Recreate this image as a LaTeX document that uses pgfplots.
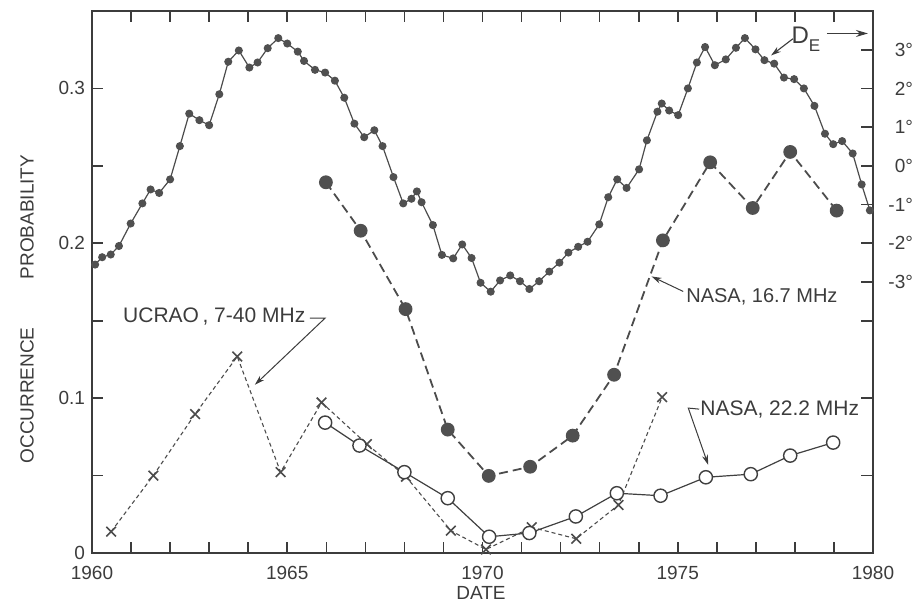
\documentclass[border=0pt]{standalone}
\usepackage{fontspec}
\setmainfont{Liberation Sans}
\usepackage{pgfplots}
\pgfplotsset{compat=1.18}
\usetikzlibrary{arrows.meta}
\definecolor{ink}{HTML}{3C3C3C}
\definecolor{dot}{HTML}{505050}

\begin{document}
\begin{tikzpicture}[font=\fontsize{9.5}{11}\selectfont]
\path[use as bounding box] (-46pt,-24.5pt) rectangle (410pt,276.5pt);

% left axis: occurrence probability
\begin{axis}[
    name=main, at={(0,0)}, anchor=south west,
    scale only axis, width=390.5pt, height=271pt,
    xmin=1960, xmax=1980, ymin=0, ymax=0.35,
    clip=false,
    axis line style={-, ink, line width=0.9pt},
    tick style={ink, line width=0.8pt},
    tick align=inside,
    major tick length=5.5pt, minor tick length=5.5pt,
    xtick={1960,1965,1970,1975,1980},
    xticklabels={1960,1965,1970,1975,1980},
    minor xtick={1961,1962,1963,1964,1966,1967,1968,1969,1971,1972,1973,1974,1976,1977,1978,1979},
    ytick={0,0.05,0.1,0.15,0.2,0.25,0.3},
    yticklabels={0\hspace{4.5pt},,0.1,,0.2,,0.3},
    ytick pos=left,
    /pgf/number format/assume math mode=true,
    ticklabel style={text=ink},
    xticklabel style={yshift=-3pt},
]

% UCRAO, 7-40 MHz
\addplot[black!70, line width=0.55pt, dash pattern=on 2pt off 1.5pt,
    mark=x, mark size=3.4pt, mark options={solid, line width=0.8pt}]
coordinates {
(1960.49,0.0138) (1961.57,0.0500) (1962.64,0.0897) (1963.72,0.1269)
(1964.83,0.0522) (1965.88,0.0972) (1967.04,0.0703) (1968.04,0.0493)
(1969.19,0.0144) (1970.09,0.0023) (1971.26,0.0166) (1972.40,0.0092)
(1973.48,0.0310) (1974.60,0.1006)
};

% NASA, 16.7 MHz
\addplot[black!70, line width=0.9pt, dash pattern=on 4.5pt off 2.5pt,
    mark=*, mark size=3pt, mark options={solid, fill=dot, draw=dot}]
coordinates {
(1965.99,0.2394) (1966.88,0.2081) (1968.03,0.1575) (1969.11,0.0797)
(1970.16,0.0498) (1971.22,0.0557) (1972.31,0.0758) (1973.37,0.1151)
(1974.62,0.2019) (1975.83,0.2523) (1976.92,0.2228) (1977.88,0.2590)
(1979.07,0.2211)
};

% NASA, 22.2 MHz
\addplot[black!75, line width=0.6pt,
    mark=*, mark size=3.3pt, mark options={fill=white, draw=black!75, line width=0.7pt}]
coordinates {
(1965.97,0.0842) (1966.85,0.0694) (1968.00,0.0522) (1969.11,0.0354)
(1970.17,0.0105) (1971.20,0.0129) (1972.39,0.0236) (1973.44,0.0386)
(1974.56,0.0370) (1975.72,0.0489) (1976.87,0.0509) (1977.88,0.0629)
(1978.98,0.0713)
};

% labels
\node[anchor=west, inner sep=0pt, text=ink, font=\fontsize{10}{12}\selectfont] at (axis cs:1975.21,0.1655) {NASA, 16.7 MHz};
\draw[-{Stealth[length=5pt,width=3pt]}, ink, line width=0.5pt] (axis cs:1975.14,0.1689) -- (axis cs:1974.33,0.1786);

\node[anchor=west, inner sep=0pt, text=ink, font=\fontsize{10.5}{12}\selectfont] at (axis cs:1975.57,0.0924) {NASA, 22.2 MHz};
\draw[-{Stealth[length=5pt,width=3pt]}, ink, line width=0.5pt] (axis cs:1975.55,0.0929) -- (axis cs:1975.27,0.0936) -- (axis cs:1975.78,0.0569);

\node[anchor=west, inner sep=0pt, text=ink, font=\fontsize{10.5}{12}\selectfont] at (axis cs:1960.79,0.1527) {UCRAO\,, 7-40 MHz};
\draw[-{Stealth[length=5pt,width=3pt]}, ink, line width=0.5pt] (axis cs:1965.58,0.1517) -- (axis cs:1965.97,0.1517) -- (axis cs:1964.17,0.1086);

\node[text=ink, font=\fontsize{12}{13}\selectfont] at (axis cs:1978.28,0.3316) {D\raisebox{-0.6ex}{\fontsize{8.5}{9}\selectfont E}};
\draw[-{Stealth[length=5pt,width=3pt]}, ink, line width=0.55pt] (axis cs:1977.95,0.3321) -- (axis cs:1977.39,0.3213);
\draw[-{Stealth[length=6pt,width=3.5pt]}, ink, line width=0.55pt] (axis cs:1978.82,0.3355) -- (axis cs:1979.87,0.3355);

\node[rotate=90, text=ink] at (rel axis cs:-0.0832,0.45) {OCCURRENCE\hspace{24pt}PROBABILITY};
\node[text=ink] at (rel axis cs:0.498,-0.0738) {DATE};
\end{axis}

% right axis: D_E in degrees
\begin{axis}[
    at={(0,0)}, anchor=south west,
    scale only axis, width=390.5pt, height=271pt,
    xmin=1960, xmax=1980, ymin=-10, ymax=4,
    clip=false,
    axis x line=none, axis y line*=right,
    axis line style={-, ink, line width=0.9pt},
    tick style={ink, line width=0.8pt},
    tick align=inside, major tick length=6pt,
    ytick={-8,-6,-4,-3,-2,-1,0,1,2,3},
    yticklabels={,,,-3°,-2°,-1°,0°,1°,2°,3°},
    /pgf/number format/assume math mode=true,
    yticklabel style={anchor=east, xshift=23.5pt, text=ink},
]
\addplot[black!70, line width=0.6pt, mark=*, mark size=1.7pt, mark options={fill=dot, draw=dot}]
coordinates {
(1960.08,-2.55) (1960.26,-2.36) (1960.48,-2.29) (1960.69,-2.07) (1960.99,-1.49)
(1961.29,-0.97) (1961.50,-0.61) (1961.72,-0.70) (1962.00,-0.35) (1962.25,0.51)
(1962.49,1.35) (1962.75,1.18) (1963.00,1.05) (1963.26,1.85) (1963.49,2.69)
(1963.76,2.98) (1964.03,2.54) (1964.24,2.67) (1964.50,3.04) (1964.77,3.30)
(1965.00,3.16) (1965.27,2.95) (1965.43,2.71) (1965.71,2.48) (1965.97,2.41)
(1966.22,2.20) (1966.46,1.76) (1966.72,1.09) (1966.97,0.74) (1967.23,0.92)
(1967.44,0.51) (1967.72,-0.29) (1967.97,-0.97) (1968.18,-0.85) (1968.32,-0.66)
(1968.44,-0.94) (1968.73,-1.53) (1968.96,-2.30) (1969.25,-2.39) (1969.48,-2.03)
(1969.72,-2.38) (1969.95,-3.02) (1970.21,-3.25) (1970.45,-2.96) (1970.71,-2.83)
(1970.96,-2.98) (1971.20,-3.18) (1971.45,-2.98) (1971.71,-2.73) (1971.97,-2.50)
(1972.20,-2.24) (1972.45,-2.09) (1972.69,-1.96) (1972.99,-1.51) (1973.22,-0.81)
(1973.45,-0.35) (1973.69,-0.57) (1974.01,-0.09) (1974.21,0.66) (1974.48,1.40)
(1974.59,1.61) (1974.78,1.43) (1975.01,1.31) (1975.26,2.00) (1975.49,2.67)
(1975.70,3.07) (1975.95,2.60) (1976.23,2.75) (1976.49,3.05) (1976.72,3.30)
(1976.99,3.01) (1977.22,2.73) (1977.47,2.64) (1977.72,2.28) (1977.98,2.24)
(1978.23,2.00) (1978.50,1.55) (1978.77,0.83) (1978.98,0.56) (1979.21,0.64)
(1979.48,0.32) (1979.71,-0.48) (1979.92,-1.15)
};
\end{axis}
\end{tikzpicture}
\end{document}
